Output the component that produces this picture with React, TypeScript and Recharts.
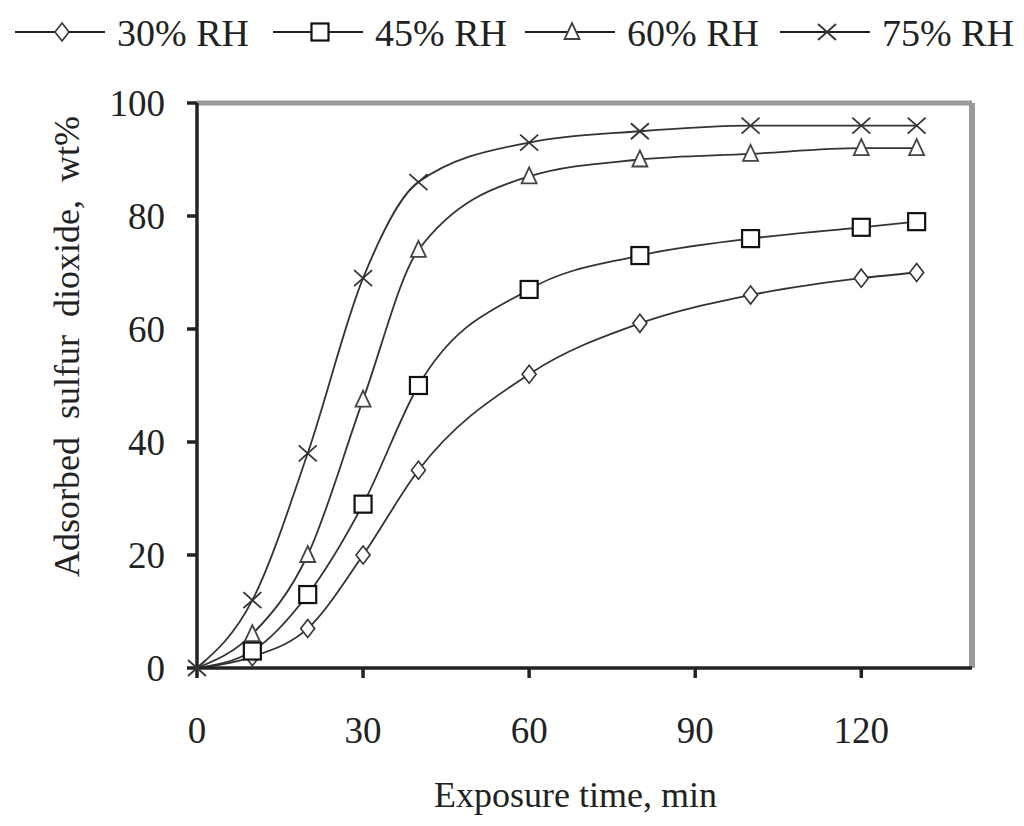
import * as React from "react"
import { Label, Legend, Line, LineChart, ReferenceLine, XAxis, YAxis } from "recharts"

const times = [0, 10, 20, 30, 40, 60, 80, 100, 120, 130]
const rh30 = [0, 2, 7, 20, 35, 52, 61, 66, 69, 70]
const rh45 = [0, 3, 13, 29, 50, 67, 73, 76, 78, 79]
const rh60 = [0, 6, 20, 47.5, 74, 87, 90, 91, 92, 92]
const rh75 = [0, 12, 38, 69, 86, 93, 95, 96, 96, 96]

const xTicks = [0, 30, 60, 90, 120]
const yTicks = [0, 20, 40, 60, 80, 100]

const SERIES = [
	{ key: "rh30", name: "30% RH", marker: "diamond" },
	{ key: "rh45", name: "45% RH", marker: "square" },
	{ key: "rh60", name: "60% RH", marker: "triangle" },
	{ key: "rh75", name: "75% RH", marker: "cross" },
]

const data = times.map((t, i) => ({
	t,
	rh30: rh30[i],
	rh45: rh45[i],
	rh60: rh60[i],
	rh75: rh75[i],
}))

const FONT = "'Liberation Serif', 'Times New Roman', serif"
const INK = "#222"

const Marker = ({ kind, cx, cy }: { kind: string; cx: number; cy: number }) => {
	if (kind === "diamond") {
		return (
			<path
				d={`M${cx},${cy - 9}L${cx + 7},${cy}L${cx},${cy + 9}L${cx - 7},${cy}Z`}
				fill="#fff"
				stroke="#333"
				strokeWidth={1.6}
			/>
		)
	}
	if (kind === "square") {
		return <rect x={cx - 8.5} y={cy - 8.5} width={17} height={17} fill="#fff" stroke="#111" strokeWidth={2.2} />
	}
	if (kind === "triangle") {
		return (
			<path
				d={`M${cx},${cy - 9}L${cx + 7.5},${cy + 7}L${cx - 7.5},${cy + 7}Z`}
				fill="#fff"
				stroke="#444"
				strokeWidth={1.8}
			/>
		)
	}
	return (
		<path
			d={`M${cx - 9},${cy - 8}L${cx + 9},${cy + 8}M${cx + 9},${cy - 8}L${cx - 9},${cy + 8}`}
			stroke="#333"
			strokeWidth={1.8}
			fill="none"
		/>
	)
}

// only the cross shows at the origin in the original, the others sit under it
const renderDot = (kind: string) => (props: any) => {
	if (props.payload.t === 0 && kind !== "cross") return <g key={`${kind}-${props.index}`} />
	return <Marker key={`${kind}-${props.index}`} kind={kind} cx={props.cx} cy={props.cy} />
}

// legend drawn by hand, Excel-style: line - marker - line, then label
const LegendBox = () => {
	const starts = [15, 273, 525, 780]
	return (
		<svg width={1024} height={64}>
			{SERIES.map((s, i) => {
				const x0 = starts[i]
				return (
					<g key={s.key}>
						<line x1={x0} y1={32} x2={x0 + 90} y2={32} stroke={INK} strokeWidth={2} />
						<Marker kind={s.marker} cx={x0 + 47} cy={32} />
						<text x={x0 + 102} y={46} fontFamily={FONT} fontSize={38} fill={INK}>
							{s.name}
						</text>
					</g>
				)
			})}
		</svg>
	)
}

export default function App() {
	return (
		<div style={{ position: "absolute", left: 0, top: 0, background: "#fff" }}>
			<LineChart
				width={1024}
				height={826}
				data={data}
				margin={{ top: 103, right: 52, bottom: 58, left: 77 }}>
				<Legend
					layout="horizontal"
					verticalAlign="middle"
					align="center"
					wrapperStyle={{ top: 0, left: 0, width: 1024 }}
					content={() => <LegendBox />}
				/>
				<ReferenceLine y={100} stroke="#999" strokeWidth={5} />
				<ReferenceLine x={140} stroke="#999" strokeWidth={6} />
				<XAxis
					dataKey="t"
					type="number"
					domain={[0, 140]}
					ticks={xTicks}
					height={100}
					tickSize={10}
					tickMargin={39}
					stroke={INK}
					strokeWidth={3.5}
					tick={{ fontFamily: FONT, fontSize: 37, fill: INK }}>
					<Label
						content={(p: any) => (
							<text
								x={p.viewBox.x + p.viewBox.width / 2 - 9}
								y={p.viewBox.y + 139}
								textAnchor="middle"
								fontFamily={FONT}
								fontSize={36}
								fill={INK}>
								Exposure time, min
							</text>
						)}
					/>
				</XAxis>
				<YAxis
					type="number"
					domain={[0, 100]}
					ticks={yTicks}
					width={120}
					tickSize={10}
					tickMargin={22}
					stroke={INK}
					strokeWidth={3.5}
					tick={{ fontFamily: FONT, fontSize: 37, fill: INK }}>
					<Label
						content={(p: any) => {
							const cx = p.viewBox.x + 2
							const cy = p.viewBox.y + p.viewBox.height / 2 - 39
							return (
								<text
									x={cx}
									y={cy}
									transform={`rotate(-90 ${cx} ${cy})`}
									textAnchor="middle"
									fontFamily={FONT}
									fontSize={36}
									wordSpacing={9}
									fill={INK}>
									Adsorbed sulfur dioxide, wt%
								</text>
							)
						}}
					/>
				</YAxis>
				{SERIES.map((s) => (
					<Line
						key={s.key}
						dataKey={s.key}
						name={s.name}
						type="monotone"
						stroke="#333"
						strokeWidth={1.8}
						dot={renderDot(s.marker)}
						activeDot={false}
						isAnimationActive={false}
					/>
				))}
			</LineChart>
		</div>
	)
}
